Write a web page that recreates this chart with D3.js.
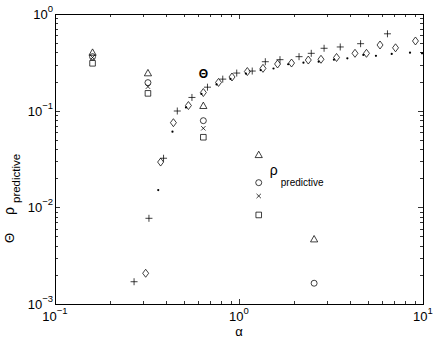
<!DOCTYPE html>
<html>
<head>
<meta charset="utf-8">
<script src="https://cdn.jsdelivr.net/npm/d3@7"></script>
<style>
  body { margin: 0; background: #fff; }
  svg { display: block; }
  text { font-family: "Liberation Sans", Arial, sans-serif; fill: #000; }
</style>
</head>
<body>
<div id="chart"></div>
<script>
// curve series
const diamondAlpha = [0.311, 0.375, 0.440, 0.531, 0.640, 0.774, 0.916, 1.11, 1.35, 1.62, 1.93, 2.38, 2.79, 3.39, 4.27, 4.93, 5.84, 7.09, 9.10]
const diamondVal = [0.00208, 0.0294, 0.0751, 0.113, 0.154, 0.196, 0.223, 0.254, 0.274, 0.304, 0.311, 0.334, 0.340, 0.355, 0.392, 0.392, 0.478, 0.447, 0.526]

const plusAlpha = [0.269, 0.324, 0.389, 0.462, 0.555, 0.674, 0.816, 0.972, 1.18, 1.39, 1.67, 2.12, 2.47, 2.90, 3.55, 4.58, 6.41]
const plusVal = [0.00170, 0.00770, 0.0322, 0.0992, 0.137, 0.175, 0.212, 0.245, 0.257, 0.321, 0.337, 0.362, 0.392, 0.442, 0.456, 0.493, 0.624]

const dotAlpha = [0.364, 0.435, 0.515, 0.625, 0.755, 0.899, 1.09, 1.31, 1.54, 1.85, 2.24, 2.71, 3.28, 3.88, 4.74, 5.55, 6.76, 8.50, 9.88]
const dotVal = [0.0151, 0.0606, 0.108, 0.149, 0.187, 0.213, 0.242, 0.263, 0.273, 0.302, 0.314, 0.321, 0.337, 0.348, 0.377, 0.369, 0.386, 0.398, 0.392]

// rho_predictive markers
const groupAlpha = [0.16, 0.32, 0.64, 1.28, 2.56]
const triangleVal = [0.398, 0.244, 0.112, 0.0348, 0.00467]
const circleVal = [0.362, 0.195, 0.0788, 0.0180, 0.00164]
const crossVal = [0.355, 0.177, 0.0657, 0.0131]
const squareVal = [0.309, 0.151, 0.0531, 0.00834]

const xTicks = [0.1, 1, 10]
const xTickExp = ["\u22121", "0", "1"]
const yTicks = [0.001, 0.01, 0.1, 1]
const yTickExp = ["\u22123", "\u22122", "\u22121", "0"]

const width = 436
const height = 342
const margin = {top: 14, right: 13, bottom: 38, left: 55}

const svg = d3.select("#chart").append("svg")
  .attr("width", width)
  .attr("height", height)

const x = d3.scaleLog().domain([0.1, 10]).range([margin.left, width - margin.right])
const y = d3.scaleLog().domain([0.001, 1]).range([height - margin.bottom, margin.top])

const x0 = margin.left, x1 = width - margin.right
const y0 = margin.top, y1 = height - margin.bottom

// log ticks (major + minor) on all four sides, pointing inward
const minorX = []
for (let e = -1; e < 1; e++) for (let m = 2; m <= 9; m++) minorX.push(m * Math.pow(10, e))
const minorY = []
for (let e = -3; e < 0; e++) for (let m = 2; m <= 9; m++) minorY.push(m * Math.pow(10, e))

const tickG = svg.append("g").attr("stroke", "#000").attr("stroke-width", 0.8)
function xTick(v, len) {
  const px = Math.round(x(v)) + 0.5
  tickG.append("line").attr("x1", px).attr("x2", px).attr("y1", y1).attr("y2", y1 - len)
  tickG.append("line").attr("x1", px).attr("x2", px).attr("y1", y0).attr("y2", y0 + len)
}
function yTick(v, len) {
  const py = Math.round(y(v)) + 0.5
  tickG.append("line").attr("x1", x0).attr("x2", x0 + len).attr("y1", py).attr("y2", py)
  tickG.append("line").attr("x1", x1).attr("x2", x1 - len).attr("y1", py).attr("y2", py)
}
xTicks.forEach(v => xTick(v, 5))
minorX.forEach(v => xTick(v, 3))
yTicks.forEach(v => yTick(v, 5))
minorY.forEach(v => yTick(v, 3))

// box
svg.append("rect")
  .attr("x", x0 + 0.5).attr("y", y0 + 0.5)
  .attr("width", x1 - x0).attr("height", y1 - y0)
  .attr("fill", "none").attr("stroke", "#000").attr("stroke-width", 1)

// tick labels
const xLab = svg.append("g").attr("font-size", 13)
xTicks.forEach((v, i) => {
  const t = xLab.append("text").attr("x", x(v)).attr("y", y1 + 17).attr("text-anchor", "middle")
  t.append("tspan").text("10")
  t.append("tspan").attr("dy", -7).attr("font-size", 9.5).text(xTickExp[i])
})
const yLab = svg.append("g").attr("font-size", 13)
yTicks.forEach((v, i) => {
  const t = yLab.append("text").attr("x", x0 - 2).attr("y", y(v) + 5).attr("text-anchor", "end")
  t.append("tspan").text("10")
  t.append("tspan").attr("dy", -7).attr("font-size", 9.5).text(yTickExp[i])
})

// axis labels
svg.append("text").attr("x", x(1)).attr("y", y1 + 32).attr("text-anchor", "middle")
  .attr("font-size", 13).text("\u03b1")

const yTitle = svg.append("g").attr("transform", "translate(14, 0) rotate(-90)")
yTitle.append("text").attr("x", -238).attr("y", 0).attr("text-anchor", "middle")
  .attr("font-size", 13).text("\u0398")
yTitle.append("text").attr("x", -211).attr("y", 0).attr("text-anchor", "middle")
  .attr("font-size", 14).text("\u03c1")
yTitle.append("text").attr("x", -203).attr("y", 6).attr("text-anchor", "start")
  .attr("font-size", 11.5).text("predictive")

// markers
const sw = 0.75
const plot = svg.append("g").attr("fill", "none").attr("stroke", "#000").attr("stroke-width", sw)

const diamondPath = "M0,-4L3,0L0,4L-3,0Z"
const plusPath = "M-3.5,0H3.5M0,-3.5V3.5"
const crossPath = "M-2.2,-2.2L2.2,2.2M-2.2,2.2L2.2,-2.2"
const trianglePath = "M0,-3.8L3.6,2.6H-3.6Z"
const squarePath = "M-2.8,-2.8H2.8V2.8H-2.8Z"

function drawPath(alphas, vals, path) {
  plot.append("g").selectAll("path")
    .data(vals.map((v, i) => ({a: alphas[i], v})))
    .join("path")
    .attr("transform", d => `translate(${x(d.a)},${y(d.v)})`)
    .attr("d", path)
}

drawPath(diamondAlpha, diamondVal, diamondPath)
drawPath(plusAlpha, plusVal, plusPath)

plot.append("g").selectAll("circle")
  .data(dotVal.map((v, i) => ({a: dotAlpha[i], v})))
  .join("circle")
  .attr("cx", d => x(d.a)).attr("cy", d => y(d.v))
  .attr("r", 1.1).attr("fill", "#000").attr("stroke", "none")

drawPath(groupAlpha, triangleVal, trianglePath)
plot.append("g").selectAll("circle")
  .data(circleVal.map((v, i) => ({a: groupAlpha[i], v})))
  .join("circle")
  .attr("cx", d => x(d.a)).attr("cy", d => y(d.v))
  .attr("r", 3)
drawPath(groupAlpha, crossVal, crossPath)
drawPath(groupAlpha, squareVal, squarePath)

// annotations
svg.append("text").attr("x", x(0.64)).attr("y", y(0.245) + 4.5)
  .attr("text-anchor", "middle").attr("font-size", 12).attr("font-weight", "bold").text("\u0398")

const rho = svg.append("text").attr("x", x(1.47)).attr("y", y(0.0215))
  .attr("font-size", 14)
rho.append("tspan").text("\u03c1")
rho.append("tspan").attr("dy", 11).attr("dx", 3).attr("font-size", 10).text("predictive")
</script>
</body>
</html>
